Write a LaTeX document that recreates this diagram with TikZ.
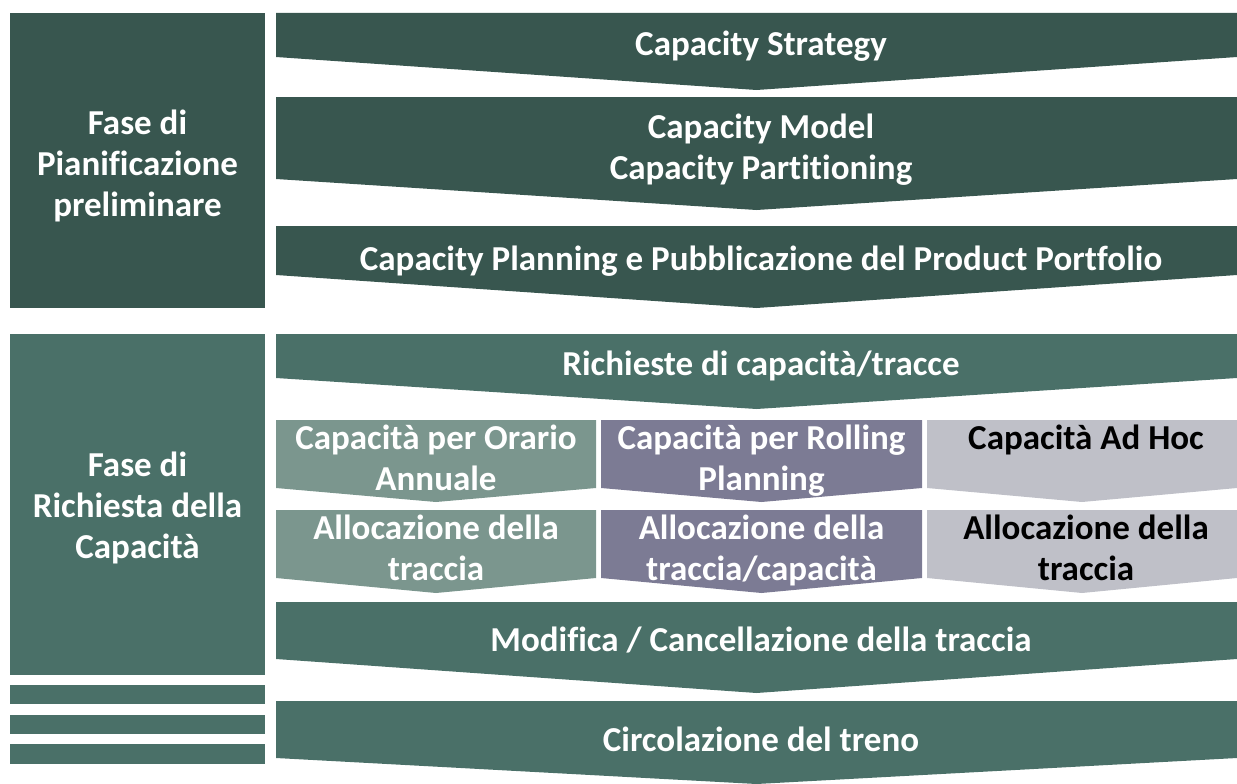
\documentclass[tikz,border=0pt]{standalone}
\usepackage{fontspec}
\setmainfont{Carlito}[Ligatures=NoCommon]
\usetikzlibrary{positioning}

\definecolor{pianif}{HTML}{38564F}
\definecolor{richiesta}{HTML}{4A7068}
\definecolor{annuale}{HTML}{7B968E}
\definecolor{rolling}{HTML}{7C7B94}
\definecolor{adhoc}{HTML}{BFC0C8}

\begin{document}
\begin{tikzpicture}[x=1pt,y=-1pt,
  lbl/.style={align=center,inner sep=0pt,anchor=base,font=\bfseries\fontsize{35}{41}\selectfont},
  wlbl/.style={lbl,text=white},
  blbl/.style={lbl,text=black}]
  \useasboundingbox (0,0) rectangle (1237,784);

  % colonna sinistra: fasi
  \fill[pianif] (10,13) rectangle (265,308);
  \fill[richiesta] (10,334) rectangle (265,675);
  \fill[richiesta] (10,685) rectangle (265,704);
  \fill[richiesta] (10,715) rectangle (265,734);
  \fill[richiesta] (10,744) rectangle (265,764);
  \node[wlbl] (pianificazione) at (137.5,216) {Fase di\\Pianificazione\\preliminare};
  \node[wlbl] (richiestacap) at (137.5,558) {Fase di\\Richiesta della\\Capacità};

  % frecce della pianificazione
  \fill[pianif] (276,13) -- (1237,13) -- (1237,57) -- (756.5,90) -- (276,57) -- cycle;
  \node[wlbl] (strategy) at (761,56) {Capacity Strategy};
  \fill[pianif] (276,97) -- (1237,97) -- (1237,179) -- (756.5,210) -- (276,179) -- cycle;
  \node[wlbl] (model) at (761,179) {Capacity Model\\Capacity Partitioning};
  \fill[pianif] (276,226) -- (1237,226) -- (1237,275) -- (756.5,308) -- (276,275) -- cycle;
  \node[wlbl] (portfolio) at (761,270) {Capacity Planning e Pubblicazione del Product Portfolio};

  % frecce della richiesta
  \fill[richiesta] (276,334) -- (1237,334) -- (1237,378) -- (756.5,409) -- (276,378) -- cycle;
  \node[wlbl] (richieste) at (761,375) {Richieste di capacità/tracce};

  \fill[annuale] (276,420) -- (596,420) -- (596,488) -- (436,502) -- (276,488) -- cycle;
  \node[wlbl] (orario) at (436,490) {Capacità per Orario\\Annuale};
  \fill[rolling] (601,420) -- (922,420) -- (922,488) -- (761.5,502) -- (601,488) -- cycle;
  \node[wlbl] (rollingplan) at (761.5,490) {Capacità per Rolling\\Planning};
  \fill[adhoc] (927,420) -- (1237,420) -- (1237,488) -- (1082,502) -- (927,488) -- cycle;
  \node[blbl] (adhocplan) at (1086,449) {Capacità Ad Hoc};

  \fill[annuale] (276,510) -- (596,510) -- (596,578) -- (436,593) -- (276,578) -- cycle;
  \node[wlbl] (alloc1) at (436,580) {Allocazione della\\traccia};
  \fill[rolling] (601,510) -- (922,510) -- (922,578) -- (761.5,593) -- (601,578) -- cycle;
  \node[wlbl] (alloc2) at (761.5,580) {Allocazione della\\traccia/capacità};
  \fill[adhoc] (927,510) -- (1237,510) -- (1237,578) -- (1082,593) -- (927,578) -- cycle;
  \node[blbl] (alloc3) at (1086,580) {Allocazione della\\traccia};

  \fill[richiesta] (276,602) -- (1237,602) -- (1237,659) -- (756.5,693) -- (276,659) -- cycle;
  \node[wlbl] (modifica) at (761,651) {Modifica / Cancellazione della traccia};
  \fill[richiesta] (276,701) -- (1237,701) -- (1237,758) -- (756.5,784) -- (276,758) -- cycle;
  \node[wlbl] (circolazione) at (761,751) {Circolazione del treno};
\end{tikzpicture}
\end{document}
